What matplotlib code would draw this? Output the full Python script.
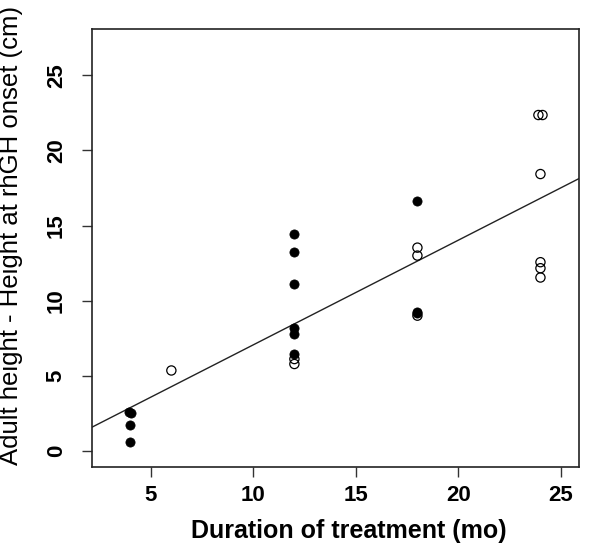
import matplotlib
matplotlib.use("Agg")
import matplotlib.pyplot as plt

plt.rcParams['font.family'] = ['Liberation Sans', 'DejaVu Sans']

# Filled points (duration in months, height gain in cm)
filled_x = [3.95, 4.05, 4.0, 4.0, 12, 12, 12, 12, 12, 12, 18, 18, 18]
filled_y = [2.6, 2.55, 1.7, 0.6, 14.43, 13.23, 11.13, 8.2, 7.76, 6.43, 16.65, 9.25, 9.15]

# Open points
open_x = [6, 12, 12, 18, 18, 18, 23.9, 24.1, 24, 24, 24, 24]
open_y = [5.35, 6.11, 5.78, 13.53, 13.0, 9.0, 22.36, 22.36, 18.43, 12.56, 12.16, 11.54]

# Regression line
intercept = 0.09
slope = 0.697

x_ticks = [5, 10, 15, 20, 25]
y_ticks = [0, 5, 10, 15, 20, 25]

fig = plt.figure(figsize=(6, 5.6), dpi=100)
ax = fig.add_axes([0.153, 0.166, 0.812, 0.782])

ax.scatter(open_x, open_y, s=44, facecolors='none', edgecolors='black', linewidths=0.9, zorder=3)
ax.scatter(filled_x, filled_y, s=44, facecolors='black', edgecolors='black', linewidths=0.5, zorder=4)
ax.axline((0, intercept), slope=slope, color='#222222', lw=1.0, zorder=2)

ax.set_xlim(2.12, 25.88)
ax.set_ylim(-1.08, 28.08)
ax.set_xticks(x_ticks)
ax.set_yticks(y_ticks)
ax.set_xticklabels([str(t) for t in x_ticks], fontsize=16, fontweight='bold')
ax.set_yticklabels([str(t) for t in y_ticks], fontsize=16, fontweight='bold', rotation=90, va='center')
ax.tick_params(axis='x', length=7, width=1, pad=6, color='#333333')
ax.tick_params(axis='y', length=7, width=1, pad=11, color='#333333')
for s in ax.spines.values():
    s.set_linewidth(1.2)
    s.set_color('#222222')

ax.set_xlabel('Duration of treatment (mo)', fontsize=18, fontweight='bold')
ax.set_ylabel('Adult height - Height at rhGH onset (cm)', fontsize=18.5)
ax.xaxis.set_label_coords(0.527, -0.118)
ax.yaxis.set_label_coords(-0.142, 0.53)

fig.savefig('out.png', dpi=100)
